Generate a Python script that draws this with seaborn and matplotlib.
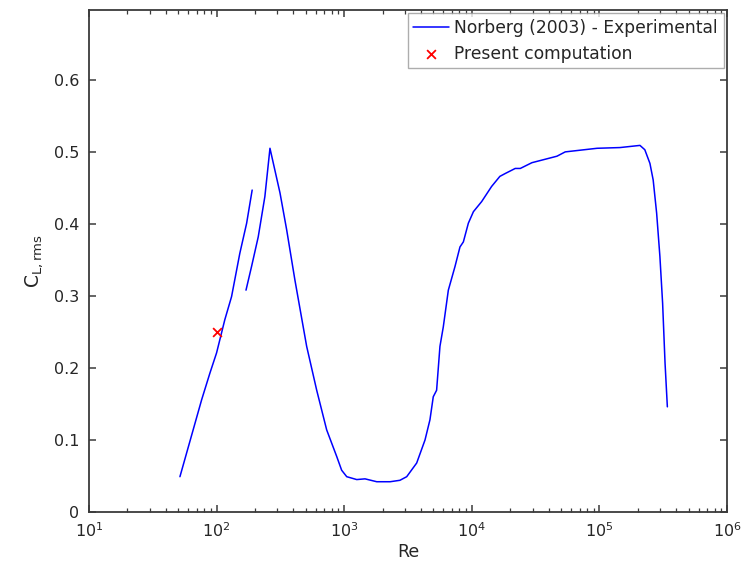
import matplotlib
matplotlib.use("Agg")
import matplotlib.pyplot as plt
import seaborn as sns
import numpy as np
import pandas as pd
from matplotlib.ticker import LogLocator, NullFormatter

# Norberg (2003) experimental, segment 1 (laminar branch)
re_seg1 = [51.6, 76.4, 88.7, 100, 116, 131, 152, 172, 190]
cl_seg1 = [0.049, 0.156, 0.193, 0.221, 0.267, 0.299, 0.359, 0.401, 0.447]

# Norberg (2003) experimental, segment 2
re_seg2 = [170, 188, 212, 239, 262, 314, 354, 411, 508, 609, 729, 874, 955,
           1047, 1254, 1456, 1800, 2290, 2735, 3090, 3700, 4300, 4700, 4990,
           5300, 5630, 5980, 6550, 7390, 8080, 8590, 9400, 10300, 11950, 14300,
           16600, 18300, 21900, 24000, 29600, 46500, 54000, 96000, 145000,
           208000, 227000, 249000, 264000, 281000, 298000, 313000, 327000,
           341000]
cl_seg2 = [0.308, 0.341, 0.382, 0.438, 0.505, 0.443, 0.392, 0.322, 0.230,
           0.169, 0.114, 0.077, 0.058, 0.049, 0.045, 0.046, 0.042, 0.042,
           0.044, 0.049, 0.068, 0.100, 0.128, 0.160, 0.169, 0.230, 0.257,
           0.308, 0.341, 0.368, 0.375, 0.401, 0.417, 0.431, 0.452, 0.466,
           0.470, 0.477, 0.477, 0.485, 0.494, 0.500, 0.505, 0.506, 0.509,
           0.503, 0.484, 0.461, 0.415, 0.355, 0.290, 0.207, 0.146]

# Present computation
re_comp = [100]
cl_comp = [0.25]

sns.set_style("white")
plt.rcParams.update({
    "font.family": ["DejaVu Sans"],
    "xtick.direction": "in", "ytick.direction": "in",
    "xtick.top": True, "ytick.right": True,
    "xtick.bottom": True, "ytick.left": True,
    "axes.edgecolor": "#3a3a3a", "axes.linewidth": 1.3,
    "xtick.color": "#3a3a3a", "ytick.color": "#3a3a3a",
    "xtick.labelcolor": "#262626", "ytick.labelcolor": "#262626",
})

fig = plt.figure(figsize=(7.46, 5.75), dpi=100)
ax = fig.add_axes([0.1193, 0.1096, 0.8552, 0.873])

d1 = pd.DataFrame({"Re": re_seg1, "CL": cl_seg1})
d2 = pd.DataFrame({"Re": re_seg2, "CL": cl_seg2})
dc = pd.DataFrame({"Re": re_comp, "CL": cl_comp})

sns.lineplot(data=d1, x="Re", y="CL", color="blue", lw=1.1, sort=False,
             estimator=None, ax=ax, label="Norberg (2003) - Experimental")
sns.lineplot(data=d2, x="Re", y="CL", color="blue", lw=1.1, sort=False,
             estimator=None, ax=ax, label="_nolegend_")
sns.scatterplot(data=dc, x="Re", y="CL", marker="x", color="red", s=40,
                linewidth=1.3, ax=ax, label="Present computation", zorder=5)

ax.set_xscale("log")
ax.set_xlim(10, 1e6)
ax.set_ylim(0, 0.697)
ax.set_yticks([0, 0.1, 0.2, 0.3, 0.4, 0.5, 0.6])
ax.set_yticklabels(["0", "0.1", "0.2", "0.3", "0.4", "0.5", "0.6"])
ax.xaxis.set_major_locator(LogLocator(base=10, numticks=10))
ax.xaxis.set_minor_locator(LogLocator(base=10, subs=np.arange(2, 10), numticks=20))
ax.xaxis.set_minor_formatter(NullFormatter())
ax.tick_params(axis="both", which="major", length=5, width=1.1, labelsize=11.5, pad=7)
ax.tick_params(axis="x", which="minor", length=3, width=0.9)

ax.set_xlabel("Re", fontsize=12.5, color="#262626", labelpad=2)
ax.set_ylabel(r"$\mathregular{C_{L,rms}}$", fontsize=13.5, color="#262626", labelpad=6)

for s in ax.spines.values():
    s.set_visible(True)

leg = ax.legend(loc="upper right", fontsize=12.3, frameon=True, fancybox=False,
                edgecolor="#999999", borderpad=0.32, labelspacing=0.45,
                handlelength=2.1, handletextpad=0.3, borderaxespad=0.2)
leg.get_frame().set_linewidth(1.0)

fig.savefig("out.png", dpi=100)
